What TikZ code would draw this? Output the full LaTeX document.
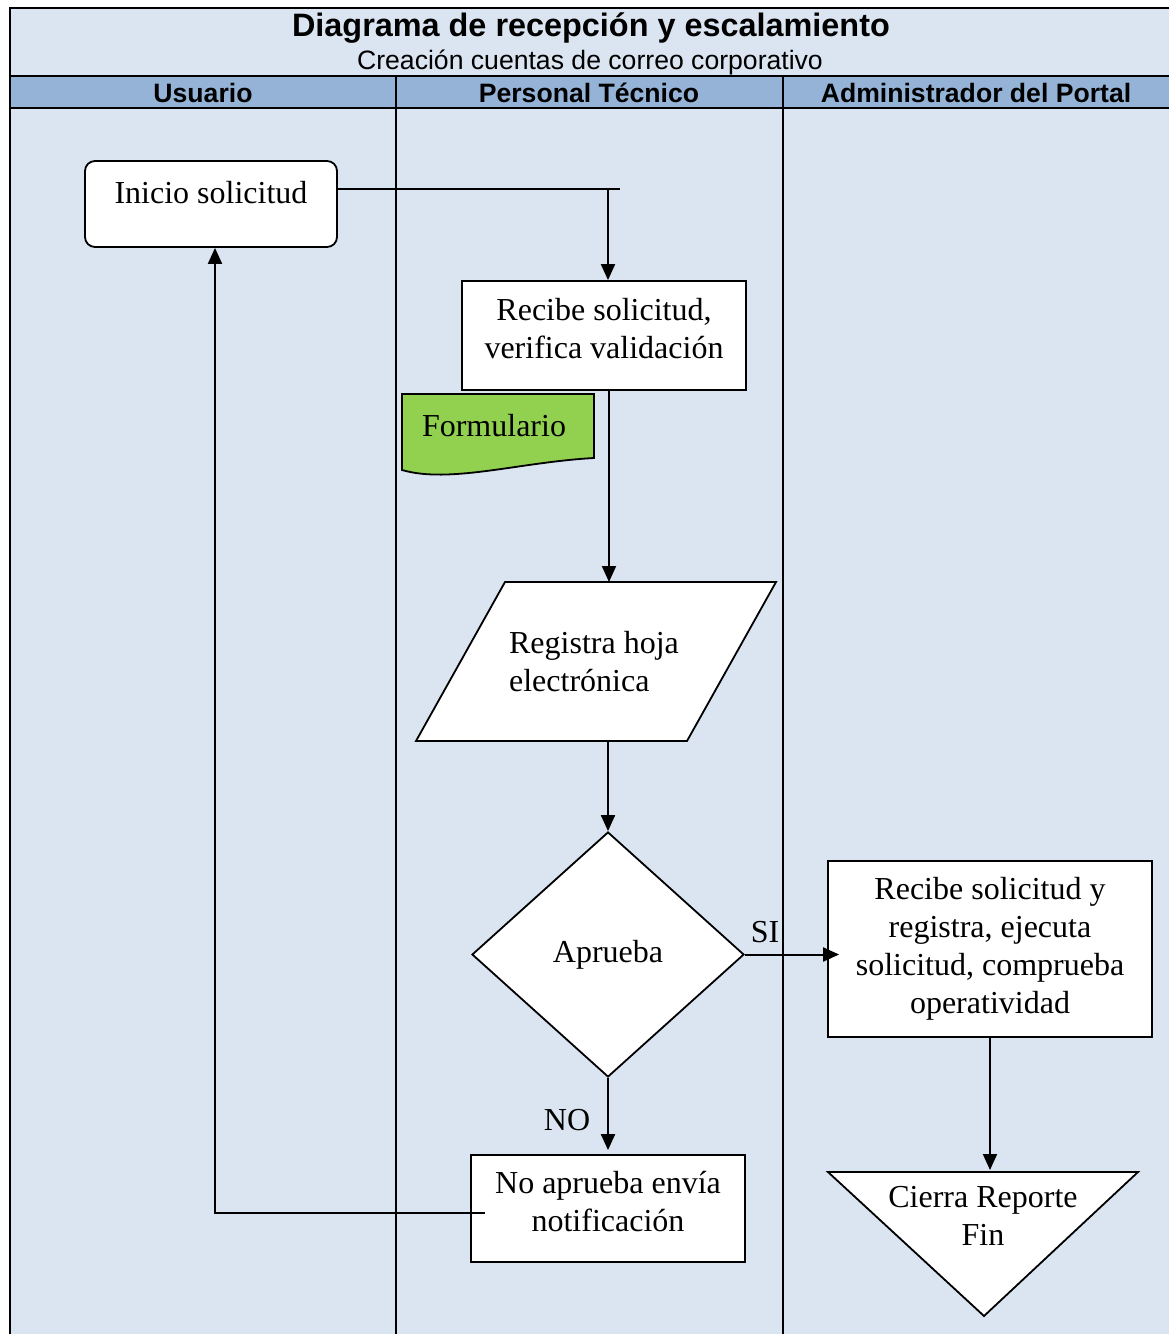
\documentclass[tikz,border=0pt]{standalone}
\usepackage{fontspec}
\setmainfont{Liberation Serif}
\setsansfont{Liberation Sans}
\usetikzlibrary{arrows.meta,shapes.geometric}
\definecolor{fondo}{HTML}{DBE5F1}
\definecolor{cabecera}{HTML}{95B3D7}
\definecolor{verde}{HTML}{92D050}
\begin{document}
\begin{tikzpicture}[x=0.5pt,y=-0.5pt,
    caja/.style={draw,fill=white,line width=0.9pt,align=center,font=\fontsize{16}{19}\selectfont},
    flecha/.style={line width=1pt,-{Triangle[length=8pt,width=7pt]}},
    linea/.style={line width=1pt},
    carril/.style={font=\sffamily\bfseries\fontsize{13.3}{15}\selectfont},
    etiq/.style={font=\fontsize{16}{19}\selectfont}]
   \useasboundingbox (0,0) rectangle (1168,1334);
   \fill[fondo] (10,8) rectangle (1175,1340);
   \fill[cabecera] (10,76) rectangle (1175,108);
   \draw[line width=1.2pt] (1175,8) -- (10,8) -- (10,1340);
   \draw[line width=1.2pt] (10,76) -- (1175,76);
   \draw[line width=1pt] (10,108) -- (1175,108);
   \draw[line width=1pt] (396,76) -- (396,1340);
   \draw[line width=1pt] (783,76) -- (783,1340);
   \node[font=\sffamily\bfseries\fontsize{16.2}{19}\selectfont] (titulo) at (591,28) {Diagrama de recepción y escalamiento};
   \node[font=\sffamily\fontsize{13.3}{15}\selectfont] (subtitulo) at (590,62) {Creación cuentas de correo corporativo};
   \node[carril] (usuario) at (203,93) {Usuario};
   \node[carril] (tecnico) at (589,93) {Personal Técnico};
   \node[carril] (admin) at (976,93) {Administrador del Portal};

   \node[caja,rounded corners=5pt,minimum width=126pt,minimum height=43pt,text depth=12pt] (inicio) at (211,204) {Inicio solicitud};
   \node[caja,minimum width=142pt,minimum height=54.5pt,text depth=7pt] (recibe) at (604,335.5) {Recibe solicitud,\\verifica validación};
   \draw[line width=0.9pt,fill=verde] (402,394) -- (594,394) -- (594,458)
      .. controls (520,462) and (450,484) .. (402,470) -- cycle;
   \node[etiq] (formulario) at (494,426) {Formulario};
   \draw[line width=0.9pt,fill=white] (416,741) -- (505,582) -- (776,582) -- (687,741) -- cycle;
   \coordinate (registraarriba) at (609,582);
   \coordinate (registraabajo) at (608,741);
   \node[etiq,align=left] (registra) at (594,661.5) {Registra hoja\\electrónica};
   \node[caja,diamond,minimum width=136pt,minimum height=122.5pt,inner sep=0pt] (aprueba) at (608,954.5) {Aprueba};
   \node[caja,minimum width=162pt,minimum height=88pt] (ejecuta) at (990,949) {Recibe solicitud y\\registra, ejecuta\\solicitud, comprueba\\operatividad};
   \node[caja,minimum width=137pt,minimum height=53.5pt,text depth=7pt] (noaprueba) at (608,1208.5) {No aprueba envía\\notificación};
   \draw[line width=0.9pt,fill=white] (828,1172) -- (1138,1172) -- (984,1316) -- cycle;
   \coordinate (fintope) at (990,1170);
   \node[etiq,align=center] (fin) at (983,1216) {Cierra Reporte\\Fin};
   \node[etiq] (si) at (765,932) {SI};
   \node[etiq] (no) at (567,1120) {NO};

   \coordinate (esquina) at (620,189);
   \coordinate (retorno) at (485,1213);
   \draw[linea] (inicio.east |- esquina) -- (esquina);
   \draw[flecha] (registraabajo |- esquina) -- (registraabajo |- recibe.north);
   \draw[flecha] (registraarriba |- recibe.south) -- (registraarriba);
   \draw[flecha] (registraabajo) -- (aprueba.north);
   \draw[flecha,shorten >=-6pt] (aprueba.east) -- (aprueba.east -| ejecuta.west);
   \draw[flecha] (ejecuta.south) -- (fintope);
   \draw[flecha,shorten >=2pt] (aprueba.south) -- (noaprueba.north);
   \draw[flecha] (retorno) -| ([xshift=2pt]inicio.south);
\end{tikzpicture}
\end{document}
